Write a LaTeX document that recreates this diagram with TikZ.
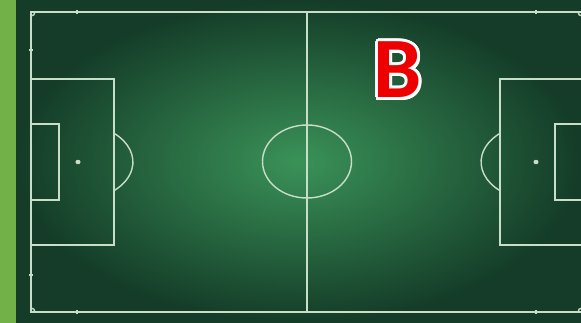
\documentclass[tikz,border=0pt]{standalone}
\usepackage{fontspec}
\newfontfamily\letterfont{Carlito}
\usepackage{xcolor}
\definecolor{stripgreen}{RGB}{114,176,72}
\definecolor{fielddark}{RGB}{20,60,40}
\definecolor{fieldlight}{RGB}{58,146,88}
\definecolor{chalk}{RGB}{200,222,200}
\definecolor{letterred}{RGB}{238,0,0}
\usepackage{tikz}
\usetikzlibrary{positioning, calc}

\begin{document}
\begin{tikzpicture}[x=0.02cm, y=-0.02cm]
  \useasboundingbox (0,0) rectangle (581,323);
  \clip (0,0) rectangle (581,323);
  % Background: side strip and field
  \fill[stripgreen] (0,0) rectangle (16,323);
  \shade[inner color=fieldlight, outer color=fielddark] (16,0) rectangle (581,323);

  % Pitch lines
  \begin{scope}[draw=chalk, line width=0.8pt]
    % Touch lines
    \draw (590,12) -- (31,12) -- (31,312) -- (590,312);
    % Halfway line and centre circle
    \draw (307,12) -- (307,312);
    \draw (307,161.5) ellipse [x radius=44.5, y radius=36.5];
    % Left penalty area and goal area
    \draw (31,79) rectangle (114,245);
    \draw (31,124) rectangle (59,200);
    \draw (114,133.3) arc[start angle=-49, end angle=49, x radius=55, y radius=38];
    % Right penalty area and goal area
    \draw (590,79) -- (500,79) -- (500,245) -- (590,245);
    \draw (590,124) -- (555,124) -- (555,200) -- (590,200);
    \draw (500,190.7) arc[start angle=131, end angle=229, x radius=55, y radius=38];
    % Corner arcs
    \draw (35,12) arc[start angle=0, end angle=90, radius=4];
    \draw (31,308) arc[start angle=-90, end angle=0, radius=4];
    \draw (578,12) arc[start angle=180, end angle=90, radius=4];
    \draw (582,308) arc[start angle=270, end angle=180, radius=4];
    % Marks on the lines
    \draw (77,10) -- (77,14);
    \draw (77,310) -- (77,314);
    \draw (536,10) -- (536,14);
    \draw (536,310) -- (536,314);
    \draw (29,50) -- (33,50);
    \draw (29,275) -- (33,275);
  \end{scope}
  % Penalty spots
  \fill[chalk] (78,162) ellipse [x radius=2.6, y radius=2.2];
  \fill[chalk] (536,162) ellipse [x radius=2.6, y radius=2.2];

  % Letter with white outline
  \foreach \a in {0,22.5,...,337.5}
    \node[font=\letterfont\bfseries\fontsize{49}{49}\selectfont, white, inner sep=0pt]
      at ($(398,70)+(\a:3)$) {B};
  \node[font=\letterfont\bfseries\fontsize{49}{49}\selectfont, letterred, inner sep=0pt]
    (letterB) at (398,70) {B};
\end{tikzpicture}
\end{document}
